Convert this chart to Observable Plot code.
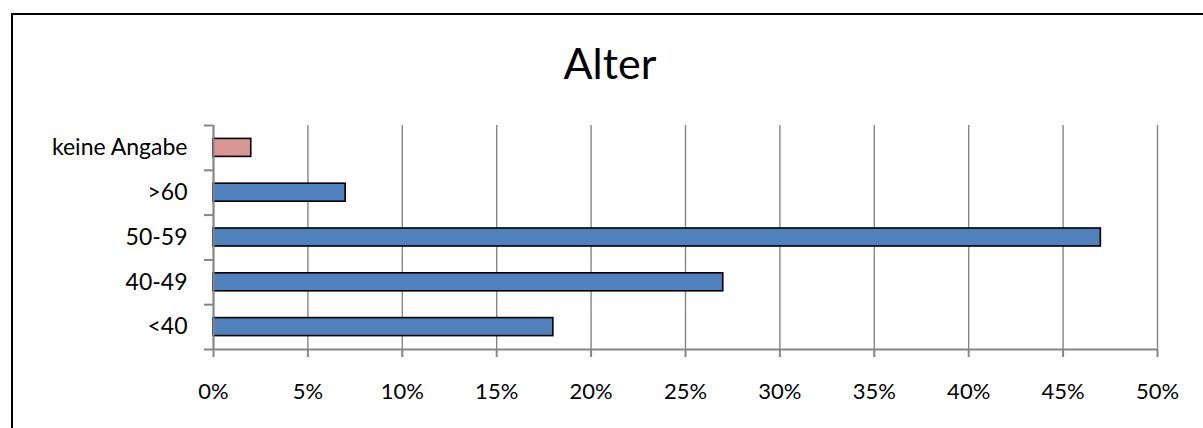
<!DOCTYPE html>
<html>
<head>
<meta charset="utf-8">
<script src="https://cdn.jsdelivr.net/npm/d3@7"></script>
<script src="https://cdn.jsdelivr.net/npm/@observablehq/plot@0.6"></script>
<style>
  html, body { margin: 0; padding: 0; background: #fff; }
  #wrap { position: relative; width: 1203px; height: 428px; overflow: hidden; font-family: Lato, "Liberation Sans", sans-serif; }
  #frame { position: absolute; left: 11px; top: 13px; width: 1300px; height: 600px; border-top: 2px solid #000; border-left: 2px solid #000; }
  #title { position: absolute; left: 0; width: 1220px; top: 41px; text-align: center; font-size: 43px; line-height: 1; color: #000; }
  #chart { position: absolute; left: 0; top: 0; }
</style>
</head>
<body>
<div id="wrap">
  <div id="frame"></div>
  <div id="chart"></div>
  <div id="title">Alter</div>
</div>
<script>
const categories = ["keine Angabe", ">60", "50-59", "40-49", "<40"];
const values = [2, 7, 47, 27, 18];
const colors = ["#d99694", "#4f81bd", "#4f81bd", "#4f81bd", "#4f81bd"];
const xTicks = [0, 5, 10, 15, 20, 25, 30, 35, 40, 45, 50];

const data = categories.map((c, i) => ({category: c, value: values[i], color: colors[i], i}));
const bounds = d3.range(categories.length + 1);
const centers = categories.map((c, i) => i + 0.5);
const axisGray = "#868686";

const plot = Plot.plot({
  width: 1203,
  height: 428,
  marginLeft: 213,
  marginRight: 46,
  marginTop: 125,
  marginBottom: 79,
  style: {fontFamily: "Lato, 'Liberation Sans', sans-serif", fontSize: "22px", color: "#000", background: "transparent", overflow: "visible"},
  x: {domain: [0, 50]},
  y: {domain: [0, categories.length], reverse: true},
  marks: [
    Plot.gridX(xTicks, {stroke: axisGray, strokeOpacity: 1, strokeWidth: 1.4}),
    Plot.rectX(data, {
      x1: 0, x2: "value", y1: "i", y2: d => d.i + 1,
      insetTop: 13.4, insetBottom: 13.4,
      fill: "color", stroke: "#000", strokeWidth: 1.6
    }),
    Plot.ruleX([0], {stroke: axisGray, strokeWidth: 2}),
    Plot.ruleY([categories.length], {stroke: axisGray, strokeWidth: 2}),
    Plot.axisX(xTicks, {
      tickSize: 8, tickPadding: 26, stroke: axisGray, strokeWidth: 2,
      tickFormat: d => d + "%", fontSize: 22, fill: "#000", label: null
    }),
    Plot.axisY(bounds, {
      tickSize: 9, stroke: axisGray, strokeWidth: 2, tickFormat: () => "", label: null
    }),
    Plot.axisY(centers, {
      tickSize: 0, tickPadding: 26, tickFormat: d => categories[Math.floor(d)],
      fontSize: 23, fill: "#000", label: null
    })
  ]
});
document.getElementById("chart").appendChild(plot);
</script>
</body>
</html>
